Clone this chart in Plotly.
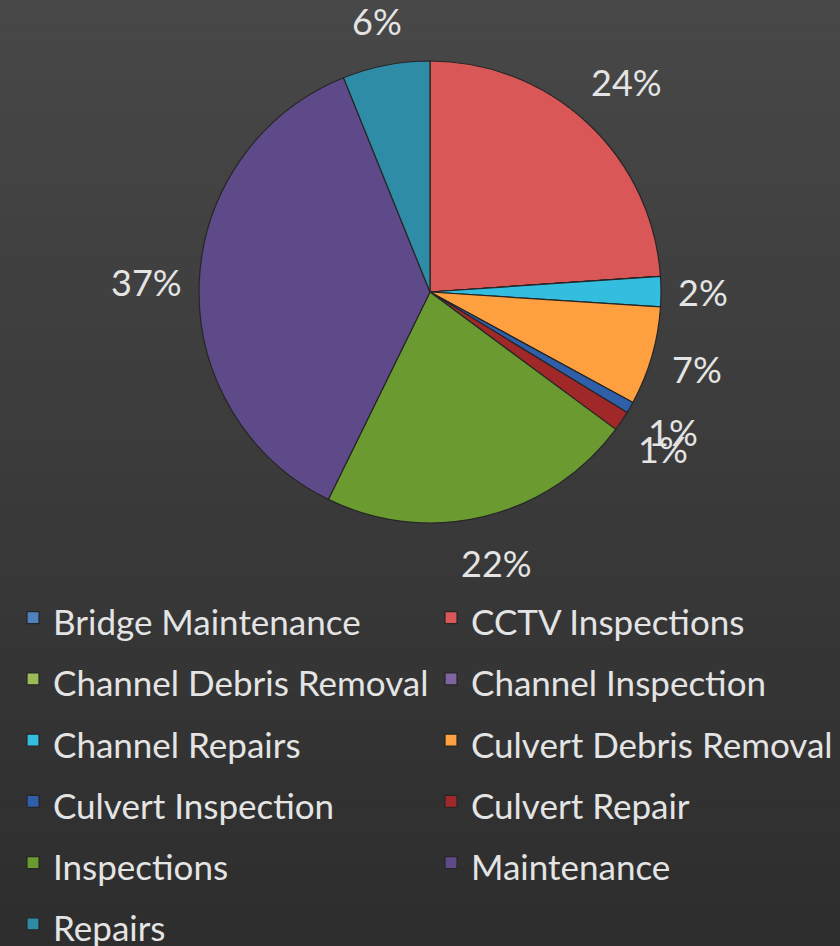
import math
import plotly.graph_objects as go

labels = ["Bridge Maintenance", "CCTV Inspections", "Channel Debris Removal",
          "Channel Inspection", "Channel Repairs", "Culvert Debris Removal",
          "Culvert Inspection", "Culvert Repair", "Inspections", "Maintenance",
          "Repairs"]
values = [0, 23.9, 0, 0, 2.1, 6.9, 0.8, 1.4, 22.1, 36.6, 6.1]
colors = ["#4F81BD", "#D95757", "#9BBB59", "#8064A2", "#33BEE0", "#FFA040",
          "#2E5FA8", "#A02828", "#6A9A30", "#5E4A88", "#2F8CA6"]

W, H = 840, 946
cx, cy, R = 430, 292, 231
FONT = "Lato"
TEXT_COLOR = "#E4E4E4"
LEG_SIZE = 35
LBL_SIZE = 36

fig = go.Figure()

# background gradient bands
nb = 60
top = (0x48, 0x48, 0x48)
bot = (0x2e, 0x2e, 0x2e)
for i in range(nb):
    t = i / (nb - 1)
    c = tuple(int(top[k] + (bot[k] - top[k]) * t) for k in range(3))
    fig.add_shape(type="rect", xref="paper", yref="paper",
                  x0=0, x1=1, y0=1 - (i + 1) / nb, y1=1 - i / nb + 0.001,
                  fillcolor="rgb(%d,%d,%d)" % c, line_width=0, layer="below")

legend_labels = ["<span style='font-size:%dpx'>%s</span>" % (LEG_SIZE, l) for l in labels]

fig.add_trace(go.Pie(
    labels=legend_labels, values=values, sort=False, direction="clockwise",
    rotation=0, marker=dict(colors=colors, line=dict(color="#262626", width=1.2)),
    textinfo="none", hoverinfo="skip",
    domain=dict(x=[(cx - R) / W, (cx + R) / W],
                y=[(H - cy - R) / H, (H - cy + R) / H]),
))

# percentage labels placed just outside each slice (label box kept a gap from the rim)
total = sum(values)
cum = 0.0
gap = 22
for v in values:
    if v > 0:
        txt = "%d%%" % round(v / total * 100)
        mid = (cum + v / 2) / total * 2 * math.pi
        s, c = math.sin(mid), math.cos(mid)
        hw = 0.55 * LBL_SIZE * len(txt) / 2
        hh = 0.55 * LBL_SIZE
        r = R + gap + abs(s) * hw + abs(c) * hh
        px = cx + r * s
        py = cy - r * c
        fig.add_annotation(x=px / W, y=1 - py / H, xref="paper", yref="paper",
                           xanchor="center", yanchor="middle",
                           text=txt, showarrow=False,
                           font=dict(size=LBL_SIZE, color=TEXT_COLOR, family=FONT))
    cum += v

fig.update_layout(
    width=W, height=H, margin=dict(l=0, r=0, t=0, b=0, autoexpand=False),
    paper_bgcolor="#3a3a3a", plot_bgcolor="rgba(0,0,0,0)",
    showlegend=True,
    legend=dict(orientation="h", x=13 / W, y=1 - 582 / H, yanchor="top",
                xanchor="left", entrywidth=373, entrywidthmode="pixels",
                font=dict(size=44.8, color=TEXT_COLOR, family=FONT),
                bgcolor="rgba(0,0,0,0)", traceorder="normal"),
)

fig.write_html("out.html", config={"displayModeBar": False},
               post_script="document.body.style.margin='0';")
